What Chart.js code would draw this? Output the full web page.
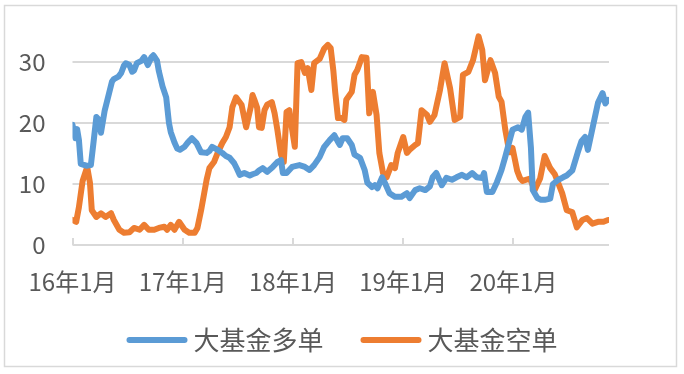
<!DOCTYPE html>
<html>
<head>
<meta charset="utf-8">
<script src="https://cdn.jsdelivr.net/npm/chart.js@4"></script>
<style>
html,body{margin:0;padding:0;background:#fff;}
#wrap{position:relative;width:684px;height:374px;}
</style>
</head>
<body>
<div id="wrap"><canvas id="c" width="684" height="374"></canvas></div>
<script>
// x values: months since 2016年1月
const longMonths = [0,0.3,0.5,0.7,0.9,1.5,2.0,2.3,2.6,2.9,3.1,3.5,4.0,4.3,4.5,5.0,5.3,5.6,5.8,6.2,6.5,6.7,7.0,7.5,7.8,8.2,8.6,8.8,9.2,9.4,9.8,10.2,10.5,10.7,11.1,11.4,11.7,12.2,12.5,12.8,13.0,13.5,14.0,14.6,14.9,15.2,15.8,16.3,16.7,17.1,17.6,17.9,18.2,18.7,19.3,19.6,20.0,20.3,20.7,21.2,21.8,22.3,22.7,22.9,23.3,23.9,24.7,25.3,25.8,26.3,26.9,27.4,28.0,28.5,28.9,29.1,29.4,29.9,30.4,30.7,31.3,31.8,32.1,32.6,32.9,33.2,33.7,34.0,34.5,35.1,35.8,36.4,36.7,37.3,37.8,38.4,38.9,39.2,39.6,40.2,40.7,41.3,41.8,42.4,42.9,43.5,44.0,44.6,44.8,45.1,45.7,46.2,46.7,47.1,47.4,47.9,48.5,48.9,49.3,49.6,49.9,50.1,50.6,51.0,51.4,52.0,52.3,52.9,53.4,53.8,54.4,55.0,55.4,55.8,56.1,56.7,57.2,57.7,58.0,58.3];
const longValues = [19.7,17.5,19,17.2,13.3,13,13.1,17,21,20.5,18.4,22,25,26.8,27.2,27.6,28.2,29.4,29.8,29.5,28.4,28.6,29.8,30.2,30.8,29.5,30.8,31.1,30.2,28.5,26,24.2,20,18.5,16.8,15.8,15.6,16.1,16.7,17.2,17.5,16.7,15.2,15.1,15.4,16.1,15.6,15.1,14.6,14.3,13.4,12.5,11.5,11.8,11.4,11.6,11.8,12.2,12.6,12,12.8,13.6,13.9,11.8,11.8,12.8,13.1,12.8,12.3,13.1,14.4,16.1,17.2,18,16.9,16.4,17.5,17.5,16.4,14.8,14.3,12.3,10.2,9.5,9.8,9.3,11.1,10.2,8.5,7.9,7.9,8.5,7.7,9,9.3,9,9.6,11.1,11.8,9.8,11,10.7,11.1,11.5,11.1,11.8,11.1,11,11.8,8.7,8.7,10.3,12.3,14.4,16.1,18.9,19.3,18.9,21,21.7,16,9,7.7,7.4,7.4,7.6,10,10.7,11.1,11.4,12.2,15.2,17,17.7,15.6,19.8,23.3,24.9,23.2,23.8];
const shortMonths = [0,0.4,0.7,1.1,1.6,1.9,2.1,2.6,3.1,3.6,4.2,4.5,5.1,5.6,6.2,6.7,7.3,7.8,8.3,8.9,9.4,10.0,10.3,10.7,11.1,11.6,12.2,12.7,13.3,13.6,14.0,14.6,14.9,15.4,15.8,16.3,16.7,17.1,17.4,17.8,18.4,18.9,19.4,19.6,19.8,20.1,20.3,20.6,20.9,21.2,21.7,22.0,22.3,22.7,23.0,23.3,23.6,23.8,24.2,24.5,24.9,25.3,25.6,26.0,26.3,26.9,27.4,27.8,28.1,28.4,28.6,28.9,29.3,29.6,29.8,30.4,30.7,31.0,31.5,32.0,32.3,32.7,33.1,33.4,33.8,34.2,34.7,35.1,35.4,36.0,36.4,36.7,37.3,37.6,38.0,38.6,38.9,39.4,40.0,40.5,41.1,41.6,42.2,42.5,43.1,43.6,44.2,44.6,44.9,45.5,46.0,46.4,46.7,47.1,47.4,47.6,47.9,48.4,48.7,49.0,49.8,50.3,50.9,51.4,52.0,52.5,53.3,53.8,54.4,54.9,55.5,56.0,56.6,57.2,57.8,58.3];
const shortValues = [4.1,3.8,6.2,10.5,12.8,10.2,5.7,4.6,5.2,4.6,5.2,4.1,2.5,2,2.1,2.8,2.5,3.3,2.5,2.5,2.8,3,2.5,3.3,2.5,3.8,2.5,2,2,2.8,5.7,10.7,12.6,13.6,15.1,16.7,17.7,19.3,22.6,24.2,23,19.3,22.6,24.6,23.8,22.5,19.3,19.2,22.1,23,23.4,21.6,18.9,14.8,13.6,21.8,22.1,20,16.1,29.8,30,28.2,29,25.4,29.8,30.5,32.2,32.8,32.3,28.5,25,20.8,20.8,20.5,23.8,25.1,27.9,28.7,30.8,30.7,21.6,25.1,21.3,15.1,11.8,11.1,13.1,12.6,15.1,17.7,15.1,15.6,16.4,16.7,22.1,21.3,20.2,21.3,25.4,29.8,25.7,20.5,21,27.9,28.4,30.3,34.2,32,27,30.3,28.2,24.3,23.5,19,16.5,15.2,15.9,12.2,11,10.5,10.9,9,10.9,14.6,12.6,11.6,8.5,5.7,5.4,2.9,4.1,4.4,3.5,3.8,3.8,4.1];
const tickMonths = [0,12,24,36,48];
const tickLabels = ["16年1月","17年1月","18年1月","19年1月","20年1月"];
const yTicks = [0,10,20,30];
const seriesNames = ["大基金多单","大基金空单"];
const seriesColors = ["#5B9BD5","#ED7D31"];

const FONT = "'Noto Sans CJK SC','DejaVu Sans',sans-serif";
const TEXT = "#595959";
const GRID = "#D9D9D9";

function toPoints(xs, ys){ return xs.map((x,i)=>({x:x, y:ys[i]})); }

const frame = {
  id:'frame',
  beforeDatasetsDraw(chart){
    // horizontal gridlines at the value-axis ticks, plus inside tick marks on the date axis
    const ctx = chart.ctx, ys = chart.scales.y, xs = chart.scales.x, a = chart.chartArea;
    ctx.save();
    ctx.strokeStyle = GRID; ctx.lineWidth = 2;
    yTicks.forEach(v=>{
      const py = Math.round(ys.getPixelForValue(v));
      ctx.beginPath(); ctx.moveTo(a.left, py); ctx.lineTo(a.right, py); ctx.stroke();
    });
    tickMonths.forEach(v=>{
      const px = Math.round(xs.getPixelForValue(v));
      ctx.beginPath(); ctx.moveTo(px, a.bottom-7); ctx.lineTo(px, a.bottom); ctx.stroke();
    });
    ctx.restore();
  },
  afterDraw(chart){
    const ctx = chart.ctx;
    ctx.save();
    ctx.strokeStyle = GRID;
    ctx.lineWidth = 1.5;
    ctx.strokeRect(4.5,5.5,672,361);
    ctx.font = "26px " + FONT;
    const sw = 61, gapT = 6, gapItem = 37;
    const widths = seriesNames.map(t=>ctx.measureText(t).width);
    const total = widths.reduce((a,w)=>a+sw+gapT+w,0) + gapItem*(seriesNames.length-1);
    let x = chart.width/2 - total/2;
    const y = 340;
    seriesNames.forEach((t,i)=>{
      ctx.strokeStyle = seriesColors[i];
      ctx.lineWidth = 6; ctx.lineCap = 'round';
      ctx.beginPath(); ctx.moveTo(x+3,y); ctx.lineTo(x+sw-3,y); ctx.stroke();
      ctx.fillStyle = TEXT; ctx.textBaseline = 'middle'; ctx.textAlign='left';
      ctx.fillText(t, x+sw+gapT, y);
      x += sw+gapT+widths[i]+gapItem;
    });
    ctx.restore();
  }
};

new Chart(document.getElementById('c'), {
  type:'line',
  data:{
    datasets:[
      {label:seriesNames[0], data:toPoints(longMonths,longValues), borderColor:seriesColors[0], backgroundColor:seriesColors[0]},
      {label:seriesNames[1], data:toPoints(shortMonths,shortValues), borderColor:seriesColors[1], backgroundColor:seriesColors[1]}
    ]
  },
  options:{
    responsive:false, animation:false,
    devicePixelRatio:1,
    layout:{padding:{left:0,right:75,top:31.5,bottom:60}},
    elements:{
      line:{borderWidth:6, tension:0, borderJoinStyle:'round', borderCapStyle:'round'},
      point:{radius:0}
    },
    plugins:{legend:{display:false}, tooltip:{enabled:false}},
    scales:{
      x:{
        type:'linear', min:0, max:58.4,
        afterBuildTicks(s){ s.ticks = tickMonths.map(v=>({value:v})); },
        afterFit(s){ s.height = 69; s.paddingLeft = 0; s.paddingRight = 0; },
        grid:{display:false, drawTicks:false},
        border:{display:false},
        ticks:{
          autoSkip:false, maxRotation:0, padding:22,
          color:TEXT, font:{family:FONT, size:24},
          callback(v){ const i = tickMonths.indexOf(v); return i>=0 ? tickLabels[i] : ''; }
        }
      },
      y:{
        min:0, max:35,
        afterBuildTicks(s){ s.ticks = yTicks.map(v=>({value:v})); },
        afterFit(s){ s.width = 72.5; s.paddingTop = 0; s.paddingBottom = 0; },
        grid:{display:true, drawOnChartArea:true, color:GRID, lineWidth:2, drawTicks:false},
        border:{display:false},
        ticks:{padding:27, color:TEXT, font:{family:FONT, size:24}}
      }
    }
  },
  plugins:[frame]
});
</script>
</body>
</html>
